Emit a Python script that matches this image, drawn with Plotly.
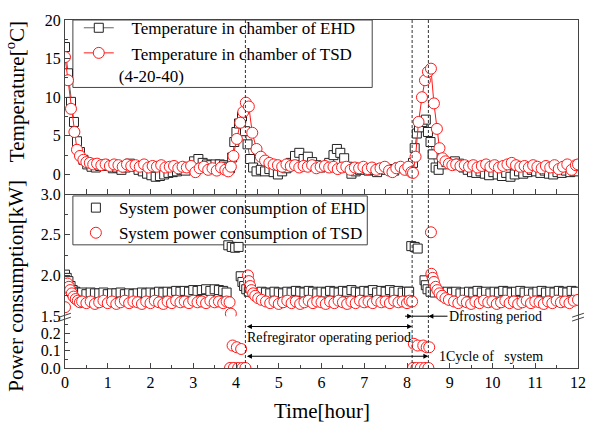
import plotly.graph_objects as go

FONT = "Liberation Serif"

# ---------------- data ----------------
# Temperature in chamber of EHD
t_temp_ehd = [0.00, 0.07, 0.14, 0.21, 0.28, 0.35, 0.43, 0.52, 0.62, 0.72, 0.82, 0.92, 1.02, 1.12, 1.22, 1.32,
              1.42, 1.52, 1.62, 1.72, 1.82, 1.92, 2.02, 2.12, 2.22, 2.32, 2.42, 2.52, 2.62, 2.72, 2.82, 2.92,
              3.02, 3.12, 3.22, 3.32, 3.42, 3.52, 3.62, 3.72, 3.80, 3.86, 3.91, 3.96, 4.01, 4.07, 4.14, 4.21,
              4.27, 4.33, 4.40, 4.48, 4.58, 4.68, 4.78, 4.88, 4.98, 5.08, 5.18, 5.28, 5.38, 5.48, 5.58, 5.68,
              5.78, 5.88, 5.98, 6.08, 6.18, 6.28, 6.36, 6.44, 6.53, 6.62, 6.70, 6.80, 6.90, 7.00, 7.10, 7.20,
              7.30, 7.40, 7.50, 7.60, 7.70, 7.80, 7.90, 8.00, 8.08, 8.14, 8.18, 8.23, 8.28, 8.36, 8.44, 8.49,
              8.55, 8.60, 8.67, 8.74, 8.82, 8.92, 9.02, 9.12, 9.22, 9.32, 9.42, 9.52, 9.62, 9.72, 9.82, 9.92,
              10.02, 10.12, 10.22, 10.32, 10.42, 10.52, 10.62, 10.72, 10.82, 10.92, 11.02, 11.12, 11.22, 11.32,
              11.42, 11.52, 11.62, 11.72, 11.82, 11.92]
temp_ehd = [16.5, 13.1, 9.4, 6.8, 4.3, 2.9, 1.9, 1.3, 1.0, 0.9, 1.1, 1.3, 1.1, 0.8, 0.9, 0.6,
            0.9, 1.4, 1.0, 0.6, 0.4, 0.1, -0.1, -0.3, -0.2, 0.0, 0.2, 0.3, 0.4, 0.6, 0.5, 0.9,
            1.7, 2.0, 1.5, 1.3, 1.2, 1.3, 1.3, 1.2, 1.0, 0.8, 2.2, 4.2, 5.5, 6.6, 7.5, 5.6,
            3.9, 2.0, 0.9, 0.4, 0.6, 0.4, 0.7, 0.3, 0.0, 0.4, 0.8, 1.5, 2.4, 2.8, 2.0, 2.3,
            1.6, 1.2, 0.9, 1.1, 1.5, 2.5, 3.3, 2.8, 2.1, 1.0, 0.1, 0.4, 0.6, 0.8, 0.5, 0.6,
            0.3, 0.8, 0.6, 0.7, 0.5, 0.9, 0.8, 0.7, 0.6, 1.5, 3.4, 5.3, 6.1, 6.8, 7.1, 5.5,
            4.2, 2.6, 0.9, 0.6, 1.3, 1.6, 1.5, 1.7, 1.4, 0.9, 0.6, 0.3, 0.2, 0.4, 0.1, -0.1,
            0.3, 0.0, -0.2, 0.2, -0.3, 0.0, 0.4, 0.1, 0.3, 0.6, 0.4, 0.2, 0.5, 0.1,
            0.0, 0.3, 0.2, 0.5, 0.3, 0.4]

# Temperature in chamber of TSD (4-20-40)
t_temp_tsd = [0.00, 0.07, 0.14, 0.22, 0.28, 0.35, 0.43, 0.50, 0.58, 0.66, 0.75, 0.85, 0.95, 1.05, 1.15, 1.25,
              1.35, 1.45, 1.55, 1.65, 1.75, 1.85, 1.95, 2.05, 2.15, 2.25, 2.35, 2.45, 2.55, 2.65, 2.75, 2.85,
              2.95, 3.05, 3.15, 3.25, 3.35, 3.45, 3.55, 3.65, 3.75, 3.82, 3.88, 3.94, 4.02, 4.10, 4.17, 4.23,
              4.30, 4.38, 4.48, 4.58, 4.68, 4.78, 4.88, 4.98, 5.08, 5.18, 5.28, 5.38, 5.48, 5.58, 5.68, 5.78,
              5.88, 5.98, 6.08, 6.18, 6.28, 6.38, 6.48, 6.58, 6.68, 6.78, 6.88, 6.98, 7.08, 7.18, 7.28, 7.38,
              7.48, 7.58, 7.66, 7.75, 7.85, 7.95, 8.03, 8.10, 8.14, 8.20, 8.27, 8.35, 8.42, 8.49, 8.56, 8.63,
              8.70, 8.76, 8.83, 8.90, 8.98, 9.06, 9.15, 9.25, 9.35, 9.45, 9.55, 9.65, 9.75, 9.85, 9.95, 10.05,
              10.15, 10.25, 10.35, 10.45, 10.55, 10.65, 10.75, 10.85, 10.95, 11.05, 11.15, 11.25, 11.35, 11.45,
              11.55, 11.65, 11.75, 11.85, 11.95, 12.00]
temp_tsd = [15.2, 12.2, 8.5, 5.5, 3.2, 2.4, 1.9, 1.6, 1.5, 1.3, 1.4, 1.2, 1.3, 1.1, 1.3, 1.2,
            1.0, 1.3, 1.1, 1.2, 1.0, 1.3, 0.9, 1.1, 1.0, 1.2, 0.9, 1.0, 1.1, 0.8, 1.0, 0.9,
            1.1, 0.3, 0.8, 1.0, 0.6, 0.8, 0.5, 0.9, 0.6, 0.4, 1.0, 2.4, 4.6, 6.7, 8.1, 9.3,
            8.8, 5.4, 3.3, 2.3, 1.8, 1.5, 1.3, 1.2, 1.0, 1.3, 1.1, 1.2, 0.9, 1.1, 1.0, 1.2,
            0.8, 1.0, 1.1, 0.9, 1.0, 0.7, 0.9, 1.0, 0.6, 0.9, 0.8, 1.0, 0.7, 0.9, 0.6, 0.8,
            1.0, 0.5, 0.3, 0.8, 1.0, 0.6, 1.0, 0.3, 0.2, 2.3, 6.8, 10.0, 12.2, 13.3, 13.7, 9.2,
            5.9, 3.4, 2.1, 1.7, 1.4, 1.2, 1.3, 1.1, 1.2, 1.0, 1.2, 0.9, 1.1, 1.3, 1.0, 1.2,
            0.9, 1.1, 1.3, 1.5, 1.2, 1.0, 1.1, 0.9, 1.2, 1.0, 0.8, 1.1, 0.9, 1.2,
            0.7, 1.0, 1.3, 0.6, 1.2, 1.3]

# System power consumption of EHD [kW]
t_pow_ehd = [0.00, 0.04, 0.08, 0.13, 0.18, 0.24, 0.30, 0.40, 0.50, 0.60, 0.70, 0.80, 0.90, 1.00, 1.10, 1.20,
             1.30, 1.40, 1.50, 1.60, 1.70, 1.80, 1.90, 2.00, 2.10, 2.20, 2.30, 2.40, 2.50, 2.60, 2.70, 2.80,
             2.90, 3.00, 3.10, 3.20, 3.30, 3.40, 3.50, 3.60, 3.70, 3.78, 3.82, 3.90, 3.98, 4.06, 4.11, 4.15,
             4.19, 4.24, 4.30, 4.40, 4.50, 4.60, 4.70, 4.80, 4.90, 5.00, 5.10, 5.20, 5.30, 5.40, 5.50, 5.60,
             5.70, 5.80, 5.90, 6.00, 6.10, 6.20, 6.30, 6.40, 6.50, 6.60, 6.70, 6.80, 6.90, 7.00, 7.10, 7.20,
             7.30, 7.40, 7.50, 7.60, 7.70, 7.80, 7.90, 8.00, 8.05, 8.10, 8.18, 8.25, 8.41, 8.44, 8.48, 8.55,
             8.65, 8.75, 8.85, 8.95, 9.05, 9.15, 9.25, 9.35, 9.45, 9.55, 9.65, 9.75, 9.85, 9.95, 10.05, 10.15,
             10.25, 10.35, 10.45, 10.55, 10.65, 10.75, 10.85, 10.95, 11.05, 11.15, 11.25, 11.35, 11.45, 11.55,
             11.65, 11.75, 11.85, 11.95]
pow_ehd = [2.01, 1.97, 1.93, 1.87, 1.82, 1.80, 1.78, 1.79, 1.77, 1.79, 1.78, 1.78, 1.79, 1.77, 1.78, 1.78,
           1.79, 1.77, 1.78, 1.77, 1.78, 1.79, 1.78, 1.79, 1.78, 1.80, 1.79, 1.80, 1.79, 1.81, 1.80, 1.81,
           1.80, 1.82, 1.81, 1.82, 1.83, 1.81, 1.83, 1.82, 1.81, 1.79, 2.37, 2.35, 2.34, 2.35, 1.99, 1.92,
           1.87, 1.83, 1.80, 1.79, 1.78, 1.80, 1.79, 1.78, 1.80, 1.79, 1.78, 1.80, 1.79, 1.81, 1.80, 1.79,
           1.81, 1.80, 1.78, 1.80, 1.79, 1.81, 1.80, 1.79, 1.81, 1.80, 1.82, 1.80, 1.79, 1.81, 1.80, 1.82,
           1.79, 1.81, 1.80, 1.82, 1.80, 1.81, 1.79, 1.80, 1.80, 2.36, 2.35, 2.33, 1.94, 1.88, 1.83, 1.80,
           1.79, 1.80, 1.78, 1.80, 1.79, 1.80, 1.78, 1.79, 1.80, 1.79, 1.81, 1.79, 1.80, 1.78, 1.80, 1.79,
           1.81, 1.80, 1.79, 1.80, 1.81, 1.79, 1.80, 1.78, 1.80, 1.81, 1.79, 1.80, 1.79, 1.81,
           1.80, 1.79, 1.81, 1.80]

# System power consumption of TSD [kW]
t_pow_tsd = [0.00, 0.03, 0.06, 0.09, 0.12, 0.16, 0.20, 0.25, 0.30, 0.35, 0.40, 0.50, 0.60, 0.70, 0.80, 0.90,
             1.00, 1.10, 1.20, 1.30, 1.40, 1.50, 1.60, 1.70, 1.80, 1.90, 2.00, 2.10, 2.20, 2.30, 2.40, 2.50,
             2.60, 2.70, 2.80, 2.90, 3.00, 3.10, 3.20, 3.30, 3.40, 3.50, 3.60, 3.70, 3.78, 3.85, 3.88, 3.86,
             3.92, 3.95, 4.02, 4.05, 4.12, 4.15, 4.22, 4.28, 4.30, 4.33, 4.36, 4.40, 4.45, 4.52, 4.60, 4.70,
             4.80, 4.90, 5.00, 5.10, 5.20, 5.30, 5.40, 5.50, 5.60, 5.70, 5.80, 5.90, 6.00, 6.10, 6.20, 6.30,
             6.40, 6.50, 6.60, 6.70, 6.80, 6.90, 7.00, 7.10, 7.20, 7.30, 7.40, 7.50, 7.60, 7.70, 7.80, 7.90,
             8.00, 8.06, 8.12, 8.14, 8.16, 8.22, 8.25, 8.32, 8.38, 8.42, 8.46, 8.50, 8.52, 8.56, 8.57, 8.60,
             8.63, 8.67, 8.71, 8.76, 8.82, 8.90, 8.98, 9.10, 9.20, 9.30, 9.40, 9.50, 9.60, 9.70, 9.80, 9.90,
             10.00, 10.10, 10.20, 10.30, 10.40, 10.50, 10.60, 10.70, 10.80, 10.90, 11.00, 11.10, 11.20, 11.30,
             11.40, 11.50, 11.60, 11.70, 11.80, 11.90, 12.00]
pow_tsd = [1.61, 1.88, 1.90, 1.86, 1.82, 1.78, 1.74, 1.71, 1.69, 1.67, 1.68, 1.66, 1.68, 1.65, 1.67, 1.69,
           1.66, 1.68, 1.65, 1.67, 1.69, 1.66, 1.68, 1.67, 1.65, 1.68, 1.66, 1.69, 1.67, 1.65, 1.68, 1.66,
           1.69, 1.67, 1.68, 1.66, 1.69, 1.67, 1.68, 1.66, 1.69, 1.67, 1.68, 1.66, 1.68, 1.67, 1.53, 0.00,
           0.13, 0.00, 0.12, 0.00, 0.11, 0.00, 0.00, 2.00, 1.93, 1.87, 1.82, 1.78, 1.75, 1.72, 1.70, 1.68,
           1.66, 1.68, 1.65, 1.67, 1.69, 1.66, 1.68, 1.65, 1.67, 1.69, 1.66, 1.68, 1.67, 1.65, 1.68, 1.66,
           1.69, 1.67, 1.65, 1.68, 1.66, 1.69, 1.67, 1.68, 1.66, 1.69, 1.67, 1.68, 1.66, 1.69, 1.67, 1.68,
           1.66, 1.69, 1.68, 0.00, 0.14, 0.00, 0.13, 0.00, 0.13, 0.00, 0.12, 0.00, 0.12, 2.53, 2.02, 1.97,
           1.92, 1.86, 1.82, 1.78, 1.75, 1.72, 1.70, 1.68, 1.66, 1.69, 1.67, 1.65, 1.68, 1.66, 1.69, 1.67,
           1.68, 1.65, 1.67, 1.69, 1.66, 1.68, 1.65, 1.67, 1.69, 1.66, 1.68, 1.67, 1.65, 1.68,
           1.66, 1.69, 1.67, 1.68, 1.66, 1.69, 1.70]

# defrost boundaries (hours): end of 1st defrost, start / end of 2nd defrost
event_times = [4.22, 8.12, 8.50]

# texts
name_temp_ehd = "Temperature in chamber of EHD"
name_temp_tsd = "Temperature in chamber of TSD<br>(4-20-40)"
name_pow_ehd = "System power consumption of EHD"
name_pow_tsd = "System power consumption of TSD"
txt_refr = "Refregirator operating period"
txt_defr = "Dfrosting period"
txt_cycle = "1Cycle of\u00a0\u00a0 system"

# ---------------- figure ----------------
W, H = 596, 432
ML, MR, MT, MB = 65, 10, 12, 64
PW, PH = W - ML - MR, H - MT - MB


def px_x(px):
    return (px - ML) / PW


def px_y(py):
    return (H - MB - py) / PH


EHD_MK = "#222222"
EHD_LN = "#666666"
RED = "#ff1a1a"
AX = "#444444"
NB = "\u00a0"

fig = go.Figure()

fig.add_trace(go.Scatter(
    x=t_temp_ehd, y=temp_ehd, xaxis="x3", yaxis="y", mode="lines+markers",
    name=NB * 3 + name_temp_ehd, legend="legend",
    line=dict(color=EHD_LN, width=1),
    marker=dict(symbol="square", size=9, color="white", line=dict(color=EHD_MK, width=1))))
fig.add_trace(go.Scatter(
    x=t_temp_tsd, y=temp_tsd, xaxis="x3", yaxis="y", mode="lines+markers",
    name=NB * 3 + name_temp_tsd, legend="legend",
    line=dict(color=RED, width=1),
    marker=dict(symbol="circle", size=11, color="white", line=dict(color=RED, width=1))))


def split(t, p, thr=1.0):
    hi = [(a, b) for a, b in zip(t, p) if b >= thr]
    lo = [(a, b) for a, b in zip(t, p) if b < thr]
    return [a for a, _ in hi], [b for _, b in hi], [a for a, _ in lo], [b for _, b in lo]


for t, p, name, sym, size, col in [
    (t_pow_ehd, pow_ehd, name_pow_ehd, "square", 9, EHD_MK),
    (t_pow_tsd, pow_tsd, name_pow_tsd, "circle", 11, RED),
]:
    ht, hp, lt, lp = split(t, p)
    mk = dict(symbol=sym, size=size, color="white", line=dict(color=col, width=1))
    fig.add_trace(go.Scatter(x=ht, y=hp, xaxis="x2", yaxis="y2", mode="markers",
                             name=name, legend="legend2", marker=mk))
    if lt:
        fig.add_trace(go.Scatter(x=lt, y=lp, xaxis="x", yaxis="y3", mode="markers",
                                 showlegend=False, marker=mk))

tickfont = dict(family=FONT, size=16, color="black")
common_y = dict(showline=True, linecolor=AX, linewidth=1, mirror=True, ticks="inside",
                ticklen=5, tickcolor=AX, tickfont=tickfont, showgrid=False, zeroline=False)

D_SPLIT = 0.149
fig.update_layout(
    width=W, height=H, margin=dict(l=ML, r=MR, t=MT, b=MB),
    paper_bgcolor="white", plot_bgcolor="white",
    font=dict(family=FONT, size=16, color="black"),
    xaxis=dict(domain=[0, 1], anchor="y3", range=[0, 12], dtick=1, showline=True, linecolor=AX,
               ticks="inside", ticklen=5, tickcolor=AX, tickfont=tickfont, showgrid=False, zeroline=False,
               minor=dict(dtick=0.5, ticks="inside", ticklen=3, tickcolor=AX)),
    xaxis2=dict(domain=[0, 1], anchor="y2", matches="x", showticklabels=False, ticks="",
                showline=False, showgrid=False, zeroline=False),
    xaxis3=dict(domain=[0, 1], anchor="y", matches="x", showticklabels=False, showline=True,
                mirror=True, linecolor=AX, ticks="inside", ticklen=5, tickcolor=AX, dtick=0.5,
                showgrid=False, zeroline=False),
    yaxis=dict(domain=[0.5, 1], range=[-2.53, 20], tickvals=[0, 5, 10, 15, 20],
               minor=dict(dtick=2.5, ticks="inside", ticklen=3, tickcolor=AX), **common_y),
    yaxis2=dict(domain=[D_SPLIT, 0.5], range=[1.5, 3.0], tickvals=[1.5, 2.0, 2.5, 3.0], tickformat=".1f",
                minor=dict(dtick=0.25, ticks="inside", ticklen=3, tickcolor=AX), **common_y),
    yaxis3=dict(domain=[0, D_SPLIT], range=[0, 0.3], tickvals=[0.0, 0.1, 0.2], tickformat=".1f",
                minor=dict(dtick=0.05, ticks="inside", ticklen=3, tickcolor=AX), **common_y),
    legend=dict(x=px_x(79), y=px_y(2), xanchor="left", yanchor="top", bgcolor="rgba(0,0,0,0)",
                borderwidth=0, font=dict(family=FONT, size=17), valign="top", tracegroupgap=0),
    legend2=dict(x=px_x(73), y=px_y(186), xanchor="left", yanchor="top", bgcolor="rgba(0,0,0,0)",
                 borderwidth=0, font=dict(family=FONT, size=17), itemwidth=36),
    showlegend=True,
)

# legend frames
fig.add_shape(type="rect", xref="paper", yref="paper", x0=px_x(73), x1=px_x(377), y0=px_y(81), y1=px_y(12),
              line=dict(color=AX, width=1), fillcolor="white", layer="below")
fig.add_shape(type="rect", xref="paper", yref="paper", x0=px_x(73), x1=px_x(372), y0=px_y(242), y1=px_y(192),
              line=dict(color=AX, width=1), fillcolor="white", layer="below")

# vertical dashed lines at defrost boundaries
for xe in event_times:
    fig.add_shape(type="line", xref="x", yref="paper", x0=xe, x1=xe, y0=0, y1=1,
                  line=dict(color="#333333", width=1, dash="3px,2px"), layer="above")

# axis titles
fig.add_annotation(text="Temperature[<sup>o</sup>C]", xref="paper", yref="paper",
                   x=px_x(15), y=px_y(85), textangle=-90, showarrow=False,
                   font=dict(family=FONT, size=21), xanchor="center", yanchor="middle")
fig.add_annotation(text="Power consumption[kW]", xref="paper", yref="paper",
                   x=px_x(15), y=px_y(284), textangle=-90, showarrow=False,
                   font=dict(family=FONT, size=21), xanchor="center", yanchor="middle")
fig.add_annotation(text="Time[hour]", xref="paper", yref="paper", x=0.5, y=px_y(412),
                   showarrow=False, font=dict(family=FONT, size=21), xanchor="center", yanchor="middle")

arrow = dict(showarrow=True, arrowhead=2, arrowsize=1, arrowwidth=1, arrowcolor="black")
x_e1, x_d0, x_d1 = event_times

# Refrigerator operating period (double arrow)
fig.add_annotation(text="", x=x_d0, y=0.24, ax=x_e1, ay=0, xref="x", yref="y3", axref="x", ayref="pixel",
                   arrowside="end+start", **arrow)
fig.add_annotation(text=txt_refr, x=(x_e1 + x_d0) / 2, y=0.175, xref="x", yref="y3", showarrow=False,
                   font=dict(family=FONT, size=14), xanchor="center", yanchor="middle")

# 1 cycle of system (double arrow)
fig.add_annotation(text="", x=x_d1, y=0.068, ax=x_e1, ay=0, xref="x", yref="y3", axref="x", ayref="pixel",
                   arrowside="end+start", **arrow)
fig.add_annotation(text=txt_cycle, x=x_d1 + 0.2, y=0.068, xref="x", yref="y3", showarrow=False,
                   font=dict(family=FONT, size=14), xanchor="left", yanchor="middle")

# Defrosting period (arrows pointing inward)
yd = px_y(315)
fig.add_annotation(text="", x=x_d0, y=yd, ax=x_d0 - 0.2, ay=0, xref="x", yref="paper", axref="x",
                   ayref="pixel", **arrow)
fig.add_shape(type="line", xref="x", yref="paper", x0=x_d0, x1=x_d1, y0=yd, y1=yd,
              line=dict(color="black", width=1))
fig.add_annotation(text=txt_defr, x=x_d1, y=yd, ax=x_d1 + 1.57, ay=0, xref="x", yref="paper", axref="x",
                   ayref="pixel", font=dict(family=FONT, size=14), **arrow)

# axis break marks (//) on left and right frame lines
for cx in (ML, W - MR):
    for dy in (-2, 2):
        fig.add_shape(type="line", xref="paper", yref="paper",
                      x0=px_x(cx - 6), y0=px_y(316 + dy + 2), x1=px_x(cx + 6), y1=px_y(316 + dy - 2),
                      line=dict(color=AX, width=1))

fig.write_html("out.html")
